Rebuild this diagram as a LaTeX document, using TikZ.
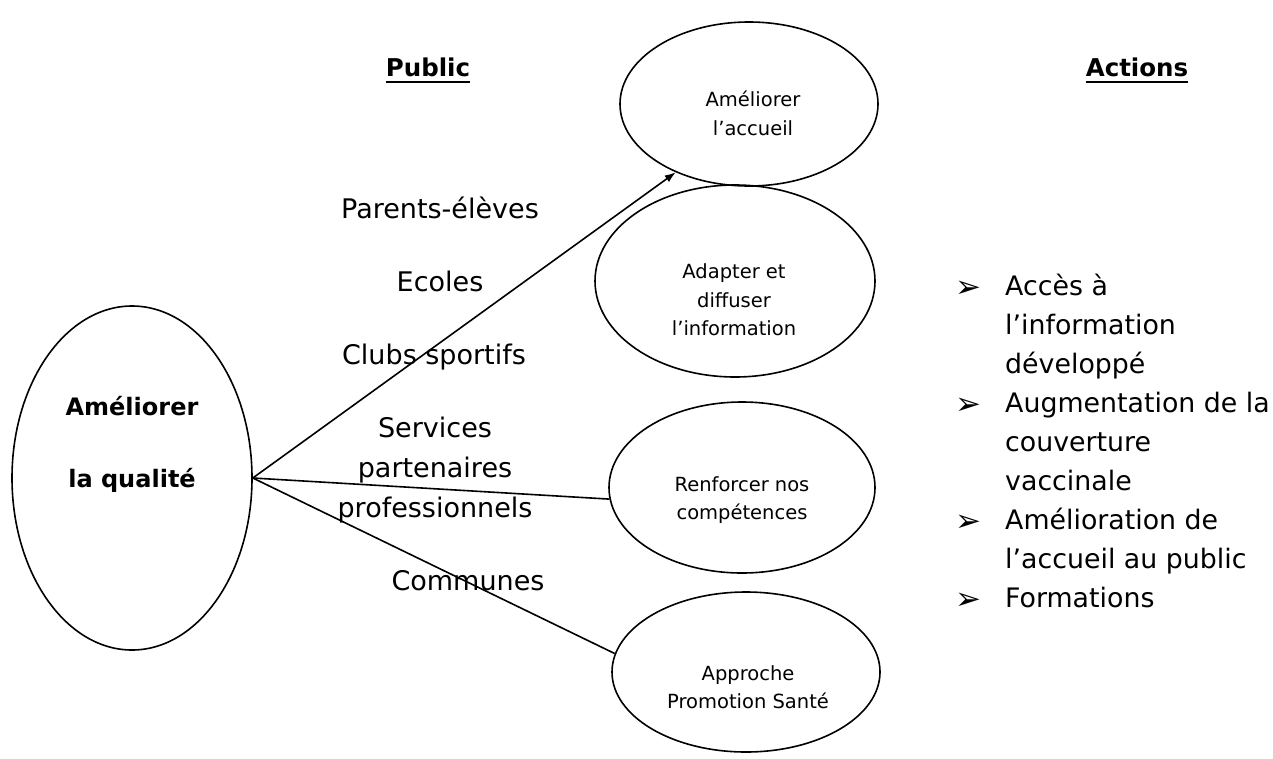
\documentclass[tikz,border=0pt]{standalone}
\usepackage{fontspec}
\setmainfont{DejaVu Sans}
\usetikzlibrary{shapes.geometric,arrows.meta}
\begin{document}
\begin{tikzpicture}[x=1pt,y=-1pt,
  ell/.style={draw,ellipse,line width=1.6pt,inner sep=0pt},
  small/.style={inner sep=0pt,anchor=base,font=\fontsize{19.5}{28}\selectfont},
  pub/.style={inner sep=0pt,anchor=base,font=\fontsize{27}{40}\selectfont},
  head/.style={inner sep=0pt,anchor=base,font=\fontsize{24.5}{30}\selectfont\bfseries},
  big/.style={inner sep=0pt,anchor=base,font=\fontsize{24}{30}\selectfont\bfseries},
  act/.style={inner sep=0pt,anchor=base west,font=\fontsize{26.8}{39}\selectfont},
  bul/.style={inner sep=0pt,anchor=base,font=\fontsize{31}{34}\selectfont},
  link/.style={line width=1.6pt},
  uline/.style={line width=2.8pt}
]
\useasboundingbox (0,0) rectangle (1273,758);

% ellipses
\node[ell,minimum width=240pt,minimum height=344pt] (main) at (132,478) {};
\node[ell,minimum width=258pt,minimum height=164pt] (acc) at (749,104) {};
\node[ell,minimum width=280pt,minimum height=192pt] (ada) at (735,281) {};
\node[ell,minimum width=266pt,minimum height=171pt] (ren) at (742,487.5) {};
\node[ell,minimum width=268pt,minimum height=160pt] (app) at (746,672) {};

% connectors
\draw[link,-{Latex[length=11pt,width=8pt]}] (main.east) -- (acc.-137.5);
\draw[link] (main.east) -- (ren.185);
\draw[link] (main.east) -- (app.172);

% ellipse texts
\node[small] (t1a) at (753,106) {Améliorer};
\node[small] (t1b) at (753,135) {l’accueil};
\node[small] (t2a) at (734,278) {Adapter et};
\node[small] (t2b) at (734,307) {diffuser};
\node[small] (t2c) at (734,335) {l’information};
\node[small] (t3a) at (742,491) {Renforcer nos};
\node[small] (t3b) at (742,519) {compétences};
\node[small] (t4a) at (748,680) {Approche};
\node[small] (t4b) at (748,708) {Promotion Santé};

\node[big] (m1) at (132,415) {Améliorer};
\node[big] (m2) at (132,487) {la qualité};

% headings
\node[head] (hp) at (428,76) {Public};
\node[head] (ha) at (1137,76) {Actions};
\draw[uline] ([yshift=-6pt]hp.base west) -- ([yshift=-6pt]hp.base east);
\draw[uline] ([yshift=-6pt]ha.base west) -- ([yshift=-6pt]ha.base east);

% public list
\node[pub] (p1) at (440,218) {Parents-élèves};
\node[pub] (p2) at (440,291) {Ecoles};
\node[pub] (p3) at (434,364) {Clubs sportifs};
\node[pub] (p4) at (435,437) {Services};
\node[pub] (p5) at (435,477) {partenaires};
\node[pub] (p6) at (435,517) {professionnels};
\node[pub] (p7) at (468,590) {Communes};

% actions list
\foreach \txt [count=\i from 0] in {Accès à, l’information, développé, Augmentation de la, couverture, vaccinale, Amélioration de, l’accueil au public, Formations}
  \node[act] (r\i) at (1005,295+39.1*\i) {\txt};
\foreach \i in {0,3,6,8}
  \node[bul] (b\i) at (968,297+39.1*\i) {➢};
\end{tikzpicture}
\end{document}
